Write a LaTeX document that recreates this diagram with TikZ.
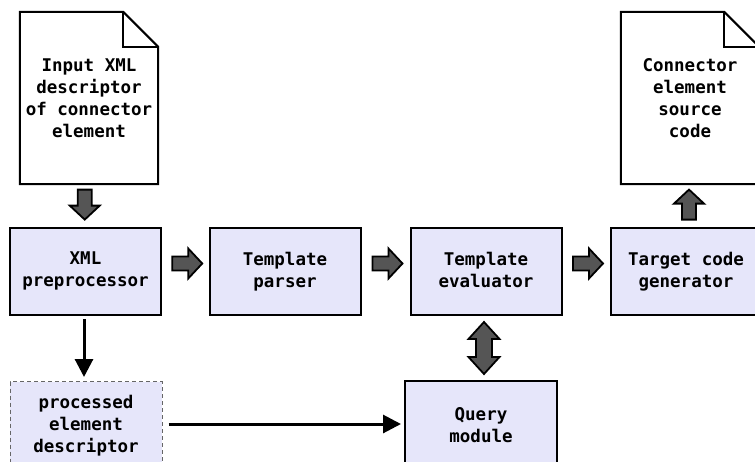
\documentclass[tikz,border=0pt]{standalone}
\usepackage{fontspec}
\setmainfont{DejaVu Sans Mono}
\usetikzlibrary{calc,arrows.meta}
\definecolor{lavbox}{HTML}{E6E6FA}
\definecolor{fatgray}{HTML}{555555}
\newcommand\myfatarrow[2]{%
  \draw[fatline,shift={#1},rotate=#2] (-15,-7) -- (1,-7) -- (1,-15) -- (15,0) -- (1,15) -- (1,7) -- (-15,7) -- cycle;}
\newcommand\myfatdouble[1]{%
  \draw[fatline,shift={#1}] (-8,-9) -- (-15.5,-9) -- (0,-26) -- (15.5,-9) -- (8,-9) -- (8,9) -- (15.5,9) -- (0,26) -- (-15.5,9) -- (-8,9) -- cycle;}
\begin{document}
\begin{tikzpicture}[x=1pt,y=-1pt,
  txt/.style={align=center,font=\bfseries\fontsize{17.5}{22}\selectfont,text=black},
  proc/.style={txt,draw=black,line width=2pt,fill=lavbox,minimum width=151pt,minimum height=87pt,inner sep=0pt},
  rowtxt/.style={execute at begin node={\rule{0pt}{19pt}},execute at end node={\rule[-4pt]{0pt}{0pt}}},
  dproc/.style={txt,draw=black!60,line width=1pt,dash pattern=on 4pt off 3pt,fill=lavbox,minimum width=152pt,minimum height=88pt,inner sep=0pt},
  docnode/.style={txt,minimum width=138pt,minimum height=172pt,inner sep=0pt},
  docline/.style={draw=black,line width=2pt,line join=miter},
  fatline/.style={draw=black,line width=1.8pt,fill=fatgray,line join=miter},
  conn/.style={line width=3pt,-{Triangle[length=18pt,width=18pt]}}
]
\useasboundingbox (0,0) rectangle (755,461);
\clip (0,0) rectangle (755,461);

% documents
\node[docnode] (doc1) at (89,98) {Input XML\\descriptor\\of connector\\element};
\draw[docline] (doc1.north west) -- ($(doc1.north east)+(-35,0)$) -- ($(doc1.north east)+(0,35)$) -- (doc1.south east) -- (doc1.south west) -- cycle;
\draw[docline] ($(doc1.north east)+(-35,0)$) |- ($(doc1.north east)+(0,35)$);

\node[docnode] (doc2) at (690,98) {Connector\\element\\source\\code};
\draw[docline] (doc2.north west) -- ($(doc2.north east)+(-35,0)$) -- ($(doc2.north east)+(0,35)$) -- (doc2.south east) -- (doc2.south west) -- cycle;
\draw[docline] ($(doc2.north east)+(-35,0)$) |- ($(doc2.north east)+(0,35)$);

% process boxes
\node[proc,rowtxt] (xml) at (85.5,271.5) {XML\\preprocessor};
\node[proc,rowtxt] (parser) at (285,271.5) {Template\\parser};
\node[proc,rowtxt] (eval) at (486,271.5) {Template\\evaluator};
\node[proc,rowtxt] (target) at (686,271.5) {Target code\\generator};
\node[proc,minimum width=152pt,minimum height=89pt] (query) at (481,425.5) {Query\\module};
\node[dproc] (pdesc) at (86,425.5) {processed\\element\\descriptor};

% fat arrows
\coordinate (fa1) at ($($(xml.east)!0.5!(parser.west)$)+(2,-8)$);
\coordinate (fa2) at ($($(parser.east)!0.5!(eval.west)$)+(2,-8)$);
\coordinate (fa3) at ($($(eval.east)!0.5!(target.west)$)+(2,-8)$);
\coordinate (fa4) at ($($(doc1.south)!0.5!(xml.north)$)+(-2.5,-1)$);
\coordinate (fa5) at ($($(target.north)!0.5!(doc2.south)$)+(1,-1)$);
\coordinate (fa6) at ($($(eval.south)!0.5!(query.north)$)+(0.5,0)$);
\myfatarrow{(fa1)}{0}
\myfatarrow{(fa2)}{0}
\myfatarrow{(fa3)}{0}
\myfatarrow{(fa4)}{-90}
\myfatarrow{(fa5)}{90}
\myfatdouble{(fa6)}

% thin connectors
\draw[conn,shorten <=3pt,shorten >=4pt] ($(xml.south)+(-1.5,0)$) -- ($(pdesc.north)+(-2,0)$);
\draw[conn,shorten <=6pt,shorten >=3pt] ($(pdesc.east)+(0,-1.5)$) -- ($(query.west)+(0,-1.5)$);
\end{tikzpicture}
\end{document}
